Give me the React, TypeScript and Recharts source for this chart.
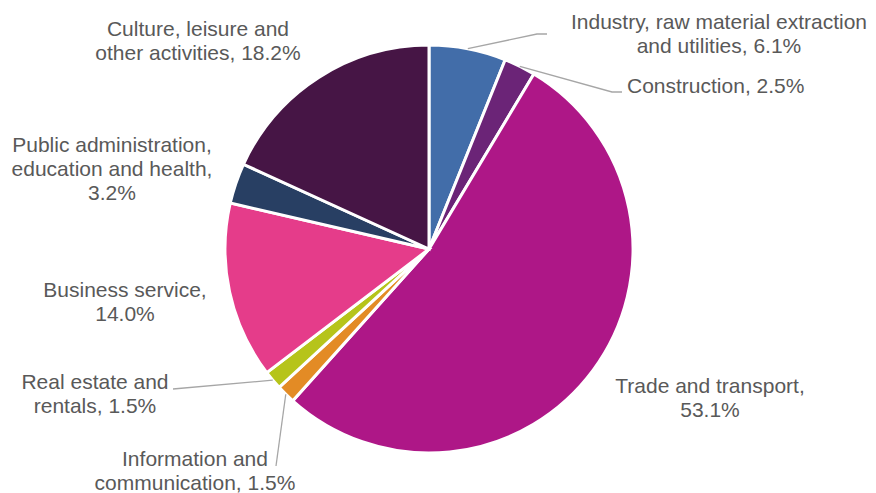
import React from "react";
import { PieChart, Pie, Cell } from "recharts";

const categories = [
  "Industry, raw material extraction and utilities",
  "Construction",
  "Trade and transport",
  "Information and communication",
  "Real estate and rentals",
  "Business service",
  "Public administration, education and health",
  "Culture, leisure and other activities",
];
const shares = [6.1, 2.5, 53.1, 1.5, 1.5, 14.0, 3.2, 18.2];
const labelLines = [
  ["Industry, raw material extraction", "and utilities, 6.1%"],
  ["Construction, 2.5%"],
  ["Trade and transport,", "53.1%"],
  ["Information and", "communication, 1.5%"],
  ["Real estate and", "rentals, 1.5%"],
  ["Business service,", "14.0%"],
  ["Public administration,", "education and health,", "3.2%"],
  ["Culture, leisure and", "other activities, 18.2%"],
];
const colors = ["#426DA9", "#6B2477", "#AE1787", "#E38B25", "#B6C41A", "#E53C8A", "#283F63", "#461545"];

const data = categories.map((name, i) => ({ name, value: shares[i] }));

// Label layout (offsets relative to pie centre), not data.
type Layout = { dx: number; dy: number; anchor: "start" | "middle" | "end"; leader?: [number, number][] };
const layout: Layout[] = [
  { dx: 290, dy: -220, anchor: "middle", leader: [[108, -215], [118, -215]] },
  { dx: 198, dy: -156, anchor: "start", leader: [[183, -157], [193, -157]] },
  { dx: 281, dy: 144, anchor: "middle" },
  { dx: -234, dy: 217, anchor: "middle", leader: [[-153, 217]] },
  { dx: -334, dy: 140, anchor: "middle", leader: [[-256, 140]] },
  { dx: -304, dy: 48, anchor: "middle" },
  { dx: -317, dy: -97, anchor: "middle" },
  { dx: -231, dy: -213, anchor: "middle" },
];

const RAD = Math.PI / 180;
const LINE_H = 24;

const renderLabel = (props: any) => {
  const { cx, cy, midAngle, outerRadius, index } = props;
  const l = layout[index];
  const lines = labelLines[index];
  let leader: React.ReactNode = null;
  if (l.leader) {
    const sx = cx + outerRadius * Math.cos(-midAngle * RAD);
    const sy = cy + outerRadius * Math.sin(-midAngle * RAD);
    const pts = [[sx, sy], ...l.leader.map(([x, y]) => [cx + x, cy + y])]
      .map((p) => p.join(","))
      .join(" ");
    leader = <polyline points={pts} fill="none" stroke="#A6A6A6" strokeWidth={1.3} />;
  }
  return (
    <g key={`lbl-${index}`}>
      {leader}
      <text
        x={cx + l.dx}
        y={cy + l.dy}
        textAnchor={l.anchor}
        fill="#595959"
        fontSize={21}
        fontFamily="'Liberation Sans', Arial, sans-serif"
      >
        {lines.map((t, k) => (
          <tspan key={k} x={cx + l.dx} y={cy + l.dy + k * LINE_H}>
            {t}
          </tspan>
        ))}
      </text>
    </g>
  );
};

export default function App() {
  return (
    <div style={{ position: "absolute", left: 0, top: 0, background: "#fff" }}>
      <PieChart width={876} height={493} margin={{ top: 0, right: 0, bottom: 0, left: 0 }}>
        <Pie
          data={data}
          dataKey="value"
          nameKey="name"
          cx={429}
          cy={249}
          outerRadius={204}
          startAngle={90}
          endAngle={-270}
          stroke="#FFFFFF"
          strokeWidth={3}
          label={renderLabel}
          labelLine={false}
          isAnimationActive={false}
        >
          {data.map((_, i) => (
            <Cell key={i} fill={colors[i]} />
          ))}
        </Pie>
      </PieChart>
    </div>
  );
}
